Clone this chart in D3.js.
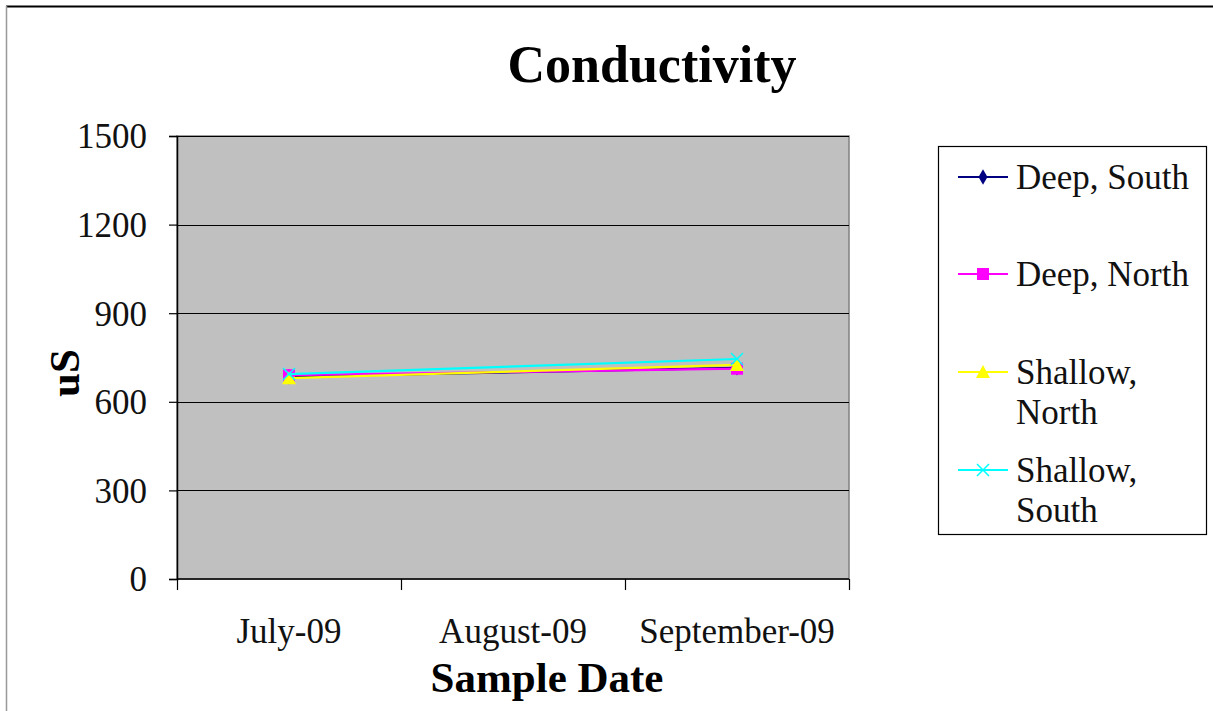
<!DOCTYPE html>
<html>
<head>
<meta charset="utf-8">
<script src="https://cdn.jsdelivr.net/npm/d3@7"></script>
<style>
  html, body { margin: 0; padding: 0; background: #fff; }
  svg { display: block; font-family: "Liberation Serif", "Times New Roman", serif; }
</style>
</head>
<body>
<svg id="chart" width="1213" height="711"></svg>
<script>
// Sample months (category axis)
const months = ["July-09", "August-09", "September-09"];
// Conductivity readings in uS; no samples were taken in August
const deepSouth    = [685, null, 715];
const deepNorth    = [690, null, 712];
const shallowNorth = [680, null, 725];
const shallowSouth = [694, null, 745];
// Value axis ticks
const yTicks = [0, 300, 600, 900, 1200, 1500];

const seriesNames  = ["Deep, South", "Deep, North", "Shallow, North", "Shallow, South"];
const seriesValues = [deepSouth, deepNorth, shallowNorth, shallowSouth];
const seriesColors = ["#000080", "#ff00ff", "#ffff00", "#00ffff"];
const seriesMarks  = ["diamond", "square", "triangle", "cross"];

const svg = d3.select("#chart");
const plot = { left: 177, right: 849, top: 136, bottom: 579 };

const x = d3.scaleBand().domain(months).range([plot.left, plot.right]).paddingInner(0).paddingOuter(0);
const y = d3.scaleLinear().domain([0, 1500]).range([plot.bottom, plot.top]);

// Chart area frame
svg.append("line").attr("x1", 6).attr("x2", 1213).attr("y1", 6.5).attr("y2", 6.5)
  .attr("stroke", "#000").attr("stroke-width", 2);
svg.append("line").attr("x1", 6.5).attr("x2", 6.5).attr("y1", 6).attr("y2", 711)
  .attr("stroke", "#999").attr("stroke-width", 1.5);

// Plot area
svg.append("rect")
  .attr("x", plot.left).attr("y", plot.top)
  .attr("width", plot.right - plot.left).attr("height", plot.bottom - plot.top)
  .attr("fill", "#c0c0c0").attr("stroke", "#808080").attr("stroke-width", 1.5);

// Horizontal gridlines
svg.append("g").selectAll("line").data(yTicks.filter(d => d > 0)).join("line")
  .attr("x1", plot.left).attr("x2", plot.right)
  .attr("y1", d => Math.round(y(d)) + 0.5).attr("y2", d => Math.round(y(d)) + 0.5)
  .attr("stroke", "#000").attr("stroke-width", 1);

// Y axis
const yAxis = svg.append("g").attr("transform", `translate(${plot.left},0)`)
  .call(d3.axisLeft(y).tickValues(yTicks).tickSize(8).tickPadding(22).tickFormat(d3.format("d")));
yAxis.select(".domain").attr("stroke", "#000").attr("stroke-width", 1.5);
yAxis.selectAll(".tick line").attr("stroke", "#000").attr("stroke-width", 1.2);
yAxis.selectAll(".tick text").attr("font-size", 35).attr("font-family", "Liberation Serif")
  .attr("fill", "#111").attr("dy", "0.34em");

// X axis: line, boundary ticks, centred month labels
svg.append("line").attr("x1", plot.left).attr("x2", plot.right)
  .attr("y1", plot.bottom).attr("y2", plot.bottom).attr("stroke", "#000").attr("stroke-width", 1.5);
const boundaries = months.map(m => x(m)).concat([x(months[months.length - 1]) + x.bandwidth()]);
svg.append("g").selectAll("line").data(boundaries).join("line")
  .attr("x1", d => Math.round(d) + 0.5).attr("x2", d => Math.round(d) + 0.5)
  .attr("y1", plot.bottom).attr("y2", plot.bottom + 11)
  .attr("stroke", "#000").attr("stroke-width", 1.2);
svg.append("g").selectAll("text").data(months).join("text")
  .attr("x", d => x(d) + x.bandwidth() / 2).attr("y", 643)
  .attr("text-anchor", "middle").attr("font-size", 35).attr("fill", "#111")
  .text(d => d);

// Titles
svg.append("text").attr("x", 652).attr("y", 82).attr("text-anchor", "middle")
  .attr("font-size", 52).attr("font-weight", "bold").attr("fill", "#000").text("Conductivity");
svg.append("text").attr("x", 547).attr("y", 692).attr("text-anchor", "middle")
  .attr("font-size", 43).attr("font-weight", "bold").attr("fill", "#000").text("Sample Date");
svg.append("text").attr("transform", "translate(79,373) rotate(-90)").attr("text-anchor", "middle")
  .attr("font-size", 43).attr("font-weight", "bold").attr("fill", "#000").text("uS");

// Marker drawing
function marker(g, type, color, cx, cy) {
  if (type === "diamond") {
    g.append("path").attr("d", d3.symbol(d3.symbolDiamond, 70)())
      .attr("transform", `translate(${cx},${cy})`).attr("fill", color);
  } else if (type === "square") {
    g.append("rect").attr("x", cx - 6).attr("y", cy - 6).attr("width", 12).attr("height", 12)
      .attr("fill", color);
  } else if (type === "triangle") {
    g.append("path").attr("d", `M${cx},${cy - 7}L${cx + 7},${cy + 6}L${cx - 7},${cy + 6}Z`)
      .attr("fill", color);
  } else {
    g.append("path").attr("d", `M${cx - 6},${cy - 6}L${cx + 6},${cy + 6}M${cx + 6},${cy - 6}L${cx - 6},${cy + 6}`)
      .attr("stroke", color).attr("stroke-width", 1.5).attr("fill", "none");
  }
}

// Series lines and markers
const line = d3.line()
  .x(d => x(d.m) + x.bandwidth() / 2)
  .y(d => y(d.v));

seriesValues.forEach((vals, i) => {
  const pts = months.map((m, j) => ({ m, v: vals[j] })).filter(d => d.v != null);
  const g = svg.append("g");
  g.append("path").datum(pts).attr("d", line)
    .attr("fill", "none").attr("stroke", seriesColors[i]).attr("stroke-width", 2.2);
  pts.forEach(p => marker(g, seriesMarks[i], seriesColors[i], x(p.m) + x.bandwidth() / 2, y(p.v)));
});

// Legend
const legend = svg.append("g");
legend.append("rect").attr("x", 938.5).attr("y", 146.5).attr("width", 268).attr("height", 388)
  .attr("fill", "#fff").attr("stroke", "#000").attr("stroke-width", 1.2);
const legendRows = [
  { lines: ["Deep, South"], y: 177 },
  { lines: ["Deep, North"], y: 274 },
  { lines: ["Shallow,", "North"], y: 372 },
  { lines: ["Shallow,", "South"], y: 470 }
];
legendRows.forEach((r, i) => {
  legend.append("line").attr("x1", 958).attr("x2", 1008).attr("y1", r.y).attr("y2", r.y)
    .attr("stroke", seriesColors[i]).attr("stroke-width", 2);
  marker(legend, seriesMarks[i], seriesColors[i], 983, r.y);
  r.lines.forEach((t, k) => {
    legend.append("text").attr("x", 1016).attr("y", r.y + k * 40).attr("dy", "0.35em")
      .attr("font-size", 35).attr("fill", "#111").text(t);
  });
});
</script>
</body>
</html>
